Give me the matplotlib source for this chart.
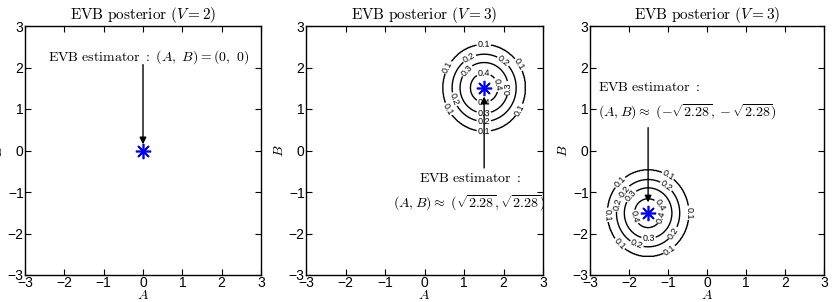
import numpy as np
import matplotlib.pyplot as plt

plt.rcParams['font.family'] = ['Liberation Sans', 'DejaVu Sans']
plt.rcParams['mathtext.fontset'] = 'cm'

# panel settings
titles = [r'$\mathrm{EVB\ posterior}\ (V=2)$',
          r'$\mathrm{EVB\ posterior}\ (V=3)$',
          r'$\mathrm{EVB\ posterior}\ (V=3)$']
centers = [(0.0, 0.0), (np.sqrt(2.28), np.sqrt(2.28)), (-np.sqrt(2.28), -np.sqrt(2.28))]
has_contour = [False, True, True]

# contour levels and their radius
levels = [0.1, 0.2, 0.3, 0.4]
radii = [1.04, 0.81, 0.61, 0.35]
peak = 0.45
tail_r, tail_val = 4.0, 0.0

ticks = [-3, -2, -1, 0, 1, 2, 3]

# annotation (text, text pos, alignment)
notes = [
    [(r'$\mathrm{EVB\ estimator\ :}\ (A,\ B)=(0,\ 0)$', (0.15, 2.25), 'center')],
    [(r'$\mathrm{EVB\ estimator\ :}$', (1.15, -0.66), 'center'),
     (r'$(A,B)\approx\ (\sqrt{2.28},\sqrt{2.28})$', (1.13, -1.27), 'center')],
    [(r'$\mathrm{EVB\ estimator\ :}$', (-2.8, 1.53), 'left'),
     (r'$(A,B)\approx\ (-\sqrt{2.28},-\sqrt{2.28})$', (-2.8, 0.93), 'left')],
]
arrow_from = [(0.0, 2.07), (np.sqrt(2.28), -0.42), (-np.sqrt(2.28), 0.55)]
arrow_to = [(0.0, 0.15), (np.sqrt(2.28), 1.3), (-np.sqrt(2.28), -1.25)]

# contour label positions
lab_pos = [
    [(1.5, 2.55), (0.6, 2.0), (2.45, 2.1), (0.6, 1.0), (2.45, 0.95), (1.5, 0.47),
     (1.15, 2.2), (1.95, 2.1), (0.8, 1.25), (2.2, 1.5), (1.5, 0.72),
     (1.1, 1.9), (1.95, 1.6), (1.5, 0.93), (1.5, 1.85), (1.5, 1.17)],
    [(-2.3, -0.7), (-1.0, -0.6), (-2.3, -2.3), (-1.0, -2.35), (-2.55, -1.55), (-0.45, -1.5),
     (-2.1, -1.0), (-1.0, -0.8), (-2.3, -1.3), (-0.85, -2.0), (-1.8, -2.25),
     (-1.95, -1.1), (-1.15, -1.3), (-1.5, -2.1), (-1.85, -1.6), (-1.2, -1.6)],
]

fig = plt.figure(figsize=(8.34, 3.02), dpi=100)
lefts = [25 / 834, 306 / 834, 590 / 834]
widths = [236 / 834, 237 / 834, 234 / 834]

g = np.linspace(-3, 3, 401)
X, Y = np.meshgrid(g, g)
xp = [0.0] + radii[::-1] + [tail_r]
fp = [peak] + levels[::-1] + [tail_val]

ci = 0
for i in range(3):
    ax = fig.add_axes([lefts[i], 27 / 302, widths[i], 249 / 302])
    cx, cy = centers[i]
    if has_contour[i]:
        R = np.sqrt((X - cx) ** 2 + (Y - cy) ** 2)
        Z = np.interp(R, xp, fp)
        cs = ax.contour(X, Y, Z, levels=levels, colors='k', linewidths=1.0)
        ax.clabel(cs, fmt='%.1f', fontsize=6.5, inline=True, inline_spacing=1,
                  manual=lab_pos[ci])
        ci += 1
    ax.plot([cx], [cy], linestyle='none', marker=(8, 2, 0), color='b',
            markersize=11, markeredgewidth=1.2)
    for txt, pos, ha in notes[i]:
        ax.text(pos[0], pos[1], txt, ha=ha, va='center', fontsize=10)
    ax.annotate('', xy=arrow_to[i], xytext=arrow_from[i],
                arrowprops=dict(arrowstyle='-|>', color='k', lw=1.0,
                                mutation_scale=10, shrinkA=0, shrinkB=0))
    ax.set_xlim(-3, 3)
    ax.set_ylim(-3, 3)
    ax.set_xticks(ticks)
    ax.set_yticks(ticks)
    ax.tick_params(direction='in', top=True, right=True, length=4,
                   labelsize=10, pad=1)
    ax.set_title(titles[i], fontsize=11, pad=5)
    ax.set_xlabel(r'$A$', fontsize=10, labelpad=-2)
    ax.set_ylabel(r'$B$', fontsize=10, labelpad=2)
    for s in ax.spines.values():
        s.set_linewidth(1.0)

fig.savefig('out.png', dpi=100)
